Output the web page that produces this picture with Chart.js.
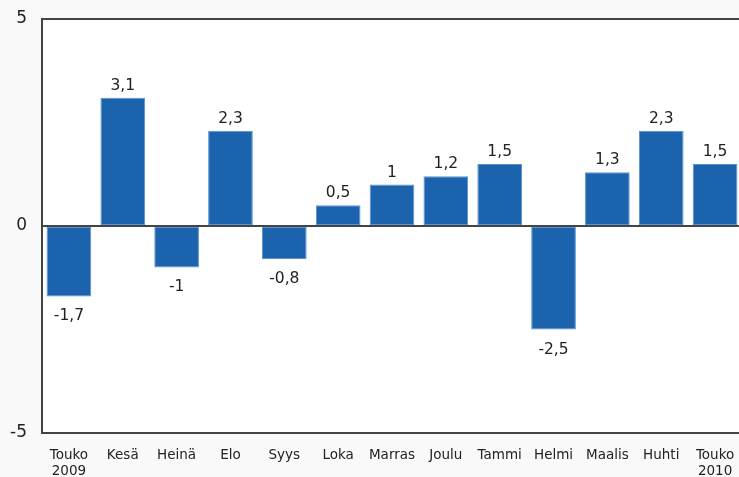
<!DOCTYPE html>
<html>
<head>
<meta charset="utf-8">
<script src="https://cdn.jsdelivr.net/npm/chart.js@4/dist/chart.umd.min.js"></script>
<style>
  html, body { margin: 0; padding: 0; background: #f9f9f9; overflow: hidden; }
  #wrap { width: 742px; height: 477px; position: relative; }
</style>
</head>
<body>
<div id="wrap"><canvas id="c"></canvas></div>
<script>
const categories = [["Touko","2009"],"Kesä","Heinä","Elo","Syys","Loka","Marras","Joulu","Tammi","Helmi","Maalis","Huhti",["Touko","2010"]];
const values = [-1.7, 3.1, -1, 2.3, -0.8, 0.5, 1, 1.2, 1.5, -2.5, 1.3, 2.3, 1.5];
const yTicks = [-5, 0, 5];

const plotBg = {
  id: 'plotBg',
  beforeDraw(chart) {
    const {ctx, chartArea: a} = chart;
    ctx.save();
    ctx.fillStyle = '#ffffff';
    ctx.fillRect(a.left, a.top, a.right - a.left, a.bottom - a.top);
    ctx.restore();
  }
};

const valueLabels = {
  id: 'valueLabels',
  afterDatasetsDraw(chart) {
    const {ctx} = chart;
    const meta = chart.getDatasetMeta(0);
    ctx.save();
    ctx.font = '15.5px "DejaVu Sans"';
    ctx.fillStyle = '#222';
    ctx.textAlign = 'center';
    ctx.textBaseline = 'alphabetic';
    meta.data.forEach((bar, i) => {
      const v = values[i];
      const txt = String(v).replace('.', ',');
      if (v >= 0) {
        ctx.fillText(txt, bar.x, bar.y - 8);
      } else {
        ctx.fillText(txt, bar.x, bar.y + 24);
      }
    });
    ctx.restore();
  }
};

new Chart(document.getElementById('c'), {
  type: 'bar',
  data: {
    labels: categories,
    datasets: [{
      data: values,
      backgroundColor: '#1c63ad',
      borderColor: '#5a92cf',
      borderWidth: 1,
      borderSkipped: false,
      barPercentage: 0.83,
      categoryPercentage: 1.0
    }]
  },
  options: {
    responsive: true,
    maintainAspectRatio: false,
    animation: false,
    layout: { padding: { top: 19, left: 0, right: 0, bottom: 0 } },
    plugins: { legend: { display: false }, tooltip: { enabled: false } },
    scales: {
      x: {
        grid: { display: false, drawTicks: false },
        border: { display: true, color: '#444', width: 2 },
        ticks: {
          color: '#222',
          font: { family: 'DejaVu Sans', size: 13.5 },
          padding: 14,
          maxRotation: 0,
          autoSkip: false
        },
        afterFit(s) { s.height = 44; s.paddingLeft = 0; s.paddingRight = 0; }
      },
      y: {
        min: -5, max: 5,
        afterBuildTicks(s) { s.ticks = yTicks.map(v => ({ value: v })); },
        grid: {
          drawTicks: false,
          color: ctx => (ctx.tick && (ctx.tick.value === 0 || ctx.tick.value === 5)) ? '#444' : 'rgba(0,0,0,0)',
          lineWidth: 2
        },
        border: { display: true, color: '#444', width: 2 },
        ticks: {
          color: '#222',
          font: { family: 'DejaVu Sans', size: 17 },
          padding: 15,
          callback: v => String(v)
        },
        afterFit(s) { s.width = 42; s.paddingTop = 0; s.paddingBottom = 0; }
      }
    }
  },
  plugins: [plotBg, valueLabels]
});
</script>
</body>
</html>
